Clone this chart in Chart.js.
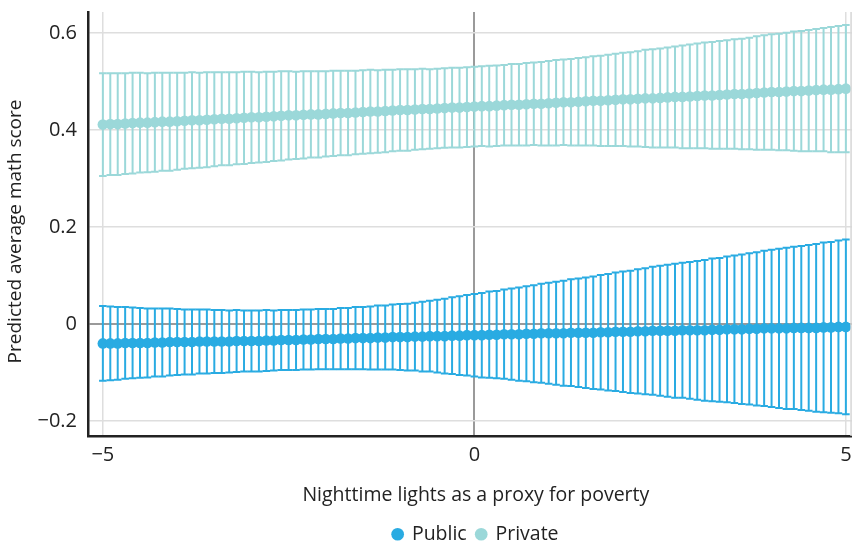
<!DOCTYPE html>
<html>
<head>
<meta charset="utf-8">
<script src="https://cdn.jsdelivr.net/npm/chart.js@4"></script>
<style>
  html, body { margin: 0; padding: 0; background: #fff; overflow: hidden; }
</style>
</head>
<body>
<canvas id="myChart" width="869" height="556"></canvas>
<script>
// nighttime lights values where the model was evaluated
const xValues = [
  -5, -4.9, -4.8, -4.7, -4.6, -4.5, -4.4, -4.3, -4.2, -4.1,
  -4, -3.9, -3.8, -3.7, -3.6, -3.5, -3.4, -3.3, -3.2, -3.1,
  -3, -2.9, -2.8, -2.7, -2.6, -2.5, -2.4, -2.3, -2.2, -2.1,
  -2, -1.9, -1.8, -1.7, -1.6, -1.5, -1.4, -1.3, -1.2, -1.1,
  -1, -0.9, -0.8, -0.7, -0.6, -0.5, -0.4, -0.3, -0.2, -0.1,
  0, 0.1, 0.2, 0.3, 0.4, 0.5, 0.6, 0.7, 0.8, 0.9,
  1, 1.1, 1.2, 1.3, 1.4, 1.5, 1.6, 1.7, 1.8, 1.9,
  2, 2.1, 2.2, 2.3, 2.4, 2.5, 2.6, 2.7, 2.8, 2.9,
  3, 3.1, 3.2, 3.3, 3.4, 3.5, 3.6, 3.7, 3.8, 3.9,
  4, 4.1, 4.2, 4.3, 4.4, 4.5, 4.6, 4.7, 4.8, 4.9,
  5
];

// predicted score, public schools
const publicScore = [
  -0.040, -0.040, -0.040, -0.039, -0.039, -0.039, -0.039, -0.038, -0.038, -0.037,
  -0.037, -0.037, -0.037, -0.036, -0.036, -0.036, -0.036, -0.036, -0.035, -0.035,
  -0.035, -0.035, -0.034, -0.034, -0.033, -0.033, -0.033, -0.032, -0.032, -0.031,
  -0.031, -0.031, -0.030, -0.030, -0.029, -0.029, -0.029, -0.028, -0.028, -0.027,
  -0.027, -0.027, -0.026, -0.026, -0.025, -0.025, -0.025, -0.024, -0.024, -0.023,
  -0.023, -0.023, -0.022, -0.022, -0.021, -0.021, -0.021, -0.020, -0.020, -0.019,
  -0.019, -0.019, -0.019, -0.018, -0.018, -0.018, -0.018, -0.017, -0.017, -0.016,
  -0.016, -0.016, -0.015, -0.015, -0.014, -0.014, -0.014, -0.014, -0.013, -0.013,
  -0.013, -0.013, -0.012, -0.012, -0.011, -0.011, -0.011, -0.010, -0.010, -0.009,
  -0.009, -0.009, -0.009, -0.008, -0.008, -0.008, -0.008, -0.007, -0.007, -0.006,
  -0.006
];
// half width of the interval, public schools
const publicMargin = [
  0.077, 0.076, 0.075, 0.074, 0.073, 0.072, 0.071, 0.070, 0.070, 0.069,
  0.068, 0.067, 0.067, 0.066, 0.066, 0.065, 0.065, 0.064, 0.064, 0.063,
  0.063, 0.063, 0.063, 0.062, 0.062, 0.062, 0.062, 0.062, 0.062, 0.062,
  0.062, 0.062, 0.063, 0.063, 0.064, 0.064, 0.065, 0.066, 0.066, 0.067,
  0.068, 0.069, 0.070, 0.072, 0.073, 0.075, 0.077, 0.079, 0.081, 0.083,
  0.085, 0.087, 0.089, 0.090, 0.092, 0.094, 0.096, 0.098, 0.100, 0.102,
  0.104, 0.106, 0.108, 0.110, 0.112, 0.114, 0.116, 0.118, 0.120, 0.122,
  0.124, 0.126, 0.128, 0.130, 0.132, 0.134, 0.136, 0.138, 0.139, 0.141,
  0.143, 0.145, 0.147, 0.148, 0.150, 0.152, 0.154, 0.156, 0.158, 0.160,
  0.162, 0.164, 0.166, 0.167, 0.169, 0.171, 0.173, 0.175, 0.176, 0.178,
  0.180
];

// predicted score, private schools
const privateScore = [
  0.411, 0.412, 0.412, 0.413, 0.414, 0.415, 0.415, 0.416, 0.417, 0.417,
  0.418, 0.419, 0.420, 0.420, 0.421, 0.422, 0.423, 0.423, 0.424, 0.425,
  0.426, 0.426, 0.427, 0.428, 0.429, 0.430, 0.430, 0.431, 0.432, 0.432,
  0.433, 0.434, 0.435, 0.435, 0.436, 0.437, 0.438, 0.438, 0.439, 0.440,
  0.441, 0.441, 0.442, 0.443, 0.443, 0.444, 0.445, 0.446, 0.446, 0.447,
  0.448, 0.449, 0.449, 0.450, 0.451, 0.452, 0.452, 0.453, 0.454, 0.454,
  0.455, 0.456, 0.457, 0.457, 0.458, 0.459, 0.460, 0.460, 0.461, 0.462,
  0.463, 0.463, 0.464, 0.465, 0.465, 0.466, 0.467, 0.468, 0.468, 0.469,
  0.470, 0.471, 0.471, 0.472, 0.473, 0.474, 0.474, 0.475, 0.476, 0.477,
  0.478, 0.478, 0.479, 0.480, 0.480, 0.481, 0.482, 0.483, 0.483, 0.484,
  0.485
];
// half width of the interval, private schools
const privateMargin = [
  0.106, 0.105, 0.105, 0.104, 0.104, 0.103, 0.102, 0.102, 0.101, 0.101,
  0.100, 0.099, 0.099, 0.098, 0.098, 0.097, 0.096, 0.096, 0.095, 0.095,
  0.094, 0.093, 0.093, 0.092, 0.092, 0.091, 0.090, 0.090, 0.089, 0.089,
  0.088, 0.088, 0.087, 0.087, 0.086, 0.086, 0.086, 0.085, 0.085, 0.084,
  0.084, 0.084, 0.083, 0.083, 0.082, 0.082, 0.082, 0.082, 0.082, 0.082,
  0.082, 0.082, 0.083, 0.083, 0.083, 0.084, 0.084, 0.085, 0.085, 0.086,
  0.087, 0.088, 0.088, 0.089, 0.090, 0.091, 0.092, 0.093, 0.094, 0.095,
  0.096, 0.097, 0.098, 0.100, 0.101, 0.102, 0.103, 0.104, 0.106, 0.107,
  0.108, 0.109, 0.110, 0.111, 0.112, 0.113, 0.114, 0.115, 0.117, 0.118,
  0.119, 0.120, 0.121, 0.123, 0.124, 0.125, 0.126, 0.127, 0.129, 0.130,
  0.131
];

const seriesNames = ["Public", "Private"];
const xTicks = [-5, 0, 5];
const yTicks = [-0.2, 0, 0.2, 0.4, 0.6];
const frameX = 5.07; // light vertical rule near the right edge

const blue = "#29abe2";
const teal = "#9bd8d9";
const font = "'Open Sans', sans-serif";

function fmt(v) {
    return (v < 0 ? "\u2212" : "") + Math.abs(Math.round(v * 10) / 10);
}

// vertical interval bars with caps, drawn under the points
const errorBars = {
    id: 'errorBars',
    beforeDatasetsDraw(chart) {
        const { ctx, chartArea, scales } = chart;
        ctx.save();
        ctx.beginPath();
        ctx.rect(chartArea.left, chartArea.top, chartArea.width, chartArea.height);
        ctx.clip();
        chart.data.datasets.forEach(ds => {
            ctx.strokeStyle = ds.backgroundColor;
            ctx.lineWidth = 2;
            ds.data.forEach((p, i) => {
                const px = scales.x.getPixelForValue(p.x);
                const top = scales.y.getPixelForValue(p.y + ds.margin[i]);
                const bot = scales.y.getPixelForValue(p.y - ds.margin[i]);
                ctx.beginPath();
                ctx.moveTo(px, top);
                ctx.lineTo(px, bot);
                ctx.moveTo(px - 3.8, top);
                ctx.lineTo(px + 3.8, top);
                ctx.moveTo(px - 3.8, bot);
                ctx.lineTo(px + 3.8, bot);
                ctx.stroke();
            });
        });
        ctx.restore();
    },
    afterDraw(chart) {
        const { ctx, chartArea, scales } = chart;
        const fx = scales.x.getPixelForValue(frameX);
        ctx.save();
        ctx.strokeStyle = "#d6d6d6";
        ctx.lineWidth = 1.5;
        ctx.beginPath();
        ctx.moveTo(fx, chartArea.top);
        ctx.lineTo(fx, chartArea.bottom);
        ctx.stroke();
        ctx.restore();
    }
};

function gridColor(ctx) {
    return ctx.tick && ctx.tick.value === 0 ? "#9a9a9a" : "#dedede";
}
function gridWidth(ctx) {
    return ctx.tick && ctx.tick.value === 0 ? 2 : 1.5;
}

const data = {
    datasets: [
        {
            label: seriesNames[0],
            data: xValues.map((x, i) => ({ x: x, y: publicScore[i] })),
            margin: publicMargin,
            backgroundColor: blue,
            borderColor: blue,
            borderWidth: 0,
            pointRadius: 5.3,
            pointHoverRadius: 5.3
        },
        {
            label: seriesNames[1],
            data: xValues.map((x, i) => ({ x: x, y: privateScore[i] })),
            margin: privateMargin,
            backgroundColor: teal,
            borderColor: teal,
            borderWidth: 0,
            pointRadius: 5.3,
            pointHoverRadius: 5.3
        }
    ]
};

const ctx = document.getElementById("myChart").getContext("2d");
const myChart = new Chart(ctx, {
    type: 'scatter',
    data: data,
    plugins: [errorBars],
    options: {
        responsive: false,
        animation: false,
        layout: { padding: { top: 12, right: 0, left: 4, bottom: 2 } },
        plugins: {
            tooltip: { enabled: false },
            legend: {
                position: 'bottom',
                fullSize: false,
                labels: {
                    usePointStyle: true,
                    pointStyle: 'circle',
                    boxWidth: 9,
                    boxHeight: 9,
                    padding: 10,
                    color: "#222",
                    font: { family: font, size: 19.5 }
                }
            }
        },
        scales: {
            x: {
                type: 'linear',
                min: -5.2,
                max: 5.24,
                z: 1,
                afterBuildTicks: s => { s.ticks = xTicks.map(v => ({ value: v })); },
                ticks: {
                    callback: v => fmt(v),
                    color: "#222",
                    padding: 7,
                    maxRotation: 0,
                    font: { family: font, size: 20 }
                },
                grid: { color: gridColor, lineWidth: gridWidth, drawTicks: false },
                border: { color: "#222", width: 2.5 },
                title: {
                    display: true,
                    text: "Nighttime lights as a proxy for poverty",
                    color: "#222",
                    padding: { top: 10, bottom: 7 },
                    font: { family: font, size: 19.5 }
                }
            },
            y: {
                type: 'linear',
                min: -0.231,
                max: 0.643,
                z: 1,
                afterBuildTicks: s => { s.ticks = yTicks.map(v => ({ value: v })); },
                afterFit: s => { s.width = 84; s.paddingTop = 0; s.paddingBottom = 0; },
                ticks: {
                    callback: v => fmt(v),
                    color: "#222",
                    padding: 11,
                    font: { family: font, size: 20 }
                },
                grid: { color: gridColor, lineWidth: gridWidth, drawTicks: false },
                border: { color: "#222", width: 2.5 },
                title: {
                    display: true,
                    text: "Predicted average math score\u00a0\u00a0\u00a0",
                    color: "#222",
                    padding: { top: 0, bottom: 8 },
                    font: { family: font, size: 19 }
                }
            }
        }
    }
});
</script>
</body>
</html>
